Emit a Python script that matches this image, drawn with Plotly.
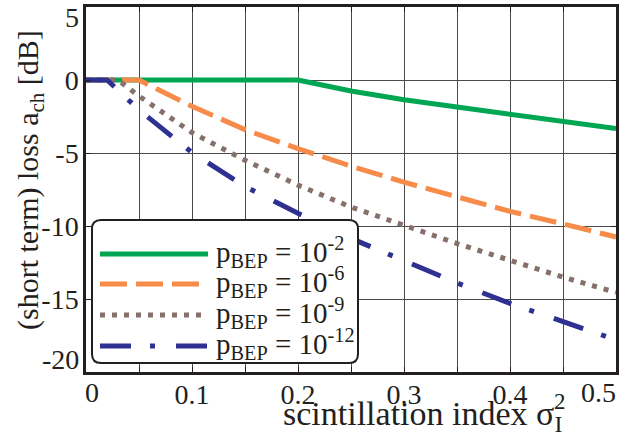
import plotly.graph_objects as go

# ---- data ----
x_green = [0, 0.05, 0.1, 0.15, 0.2, 0.25, 0.3, 0.35, 0.4, 0.45, 0.5]
y_green = [0, 0, 0, 0, 0, -0.75, -1.35, -1.85, -2.35, -2.85, -3.33]

x_orange = [0, 0.05, 0.1, 0.15, 0.2, 0.25, 0.3, 0.35, 0.4, 0.45, 0.5]
y_orange = [0, 0, -1.8, -3.4, -4.7, -5.9, -7.0, -8.0, -9.0, -9.85, -10.75]

x_brown = [0, 0.03, 0.05, 0.1, 0.15, 0.2, 0.25, 0.3, 0.35, 0.4, 0.45, 0.5]
y_brown = [0, 0, -1.1, -3.6, -5.5, -7.2, -8.7, -9.95, -11.2, -12.35, -13.5, -14.55]

x_blue = [0, 0.02, 0.05, 0.1, 0.15, 0.2, 0.25, 0.3, 0.35, 0.4, 0.45, 0.5]
y_blue = [0, 0, -2.05, -4.97, -7.29, -9.13, -10.85, -12.4, -13.9, -15.3, -16.55, -17.8]

series_names = [
    "p<sub>BEP</sub> = 10<sup>-2</sup>",
    "p<sub>BEP</sub> = 10<sup>-6</sup>",
    "p<sub>BEP</sub> = 10<sup>-9</sup>",
    "p<sub>BEP</sub> = 10<sup>-12</sup>",
]

x_tickvals = [0, 0.05, 0.1, 0.15, 0.2, 0.25, 0.3, 0.35, 0.4, 0.45, 0.5]
x_ticktext = ["", "", "0.1", "", "0.2", "", "0.3", "", "0.4", "", ""]
x_first_label, x_last_label = "0", "0.5"
y_tickvals = [5, 0, -5, -10, -15, -20]
y_ticktext = ["", "0", "-5", "-10", "-15", ""]
y_top_label, y_bottom_label = "5", "-20"

x_title = "scintillation index σ<sub>I</sub>"
x_title_sup = "2"
y_title = "(short term) loss a<sub>ch</sub> [dB]"

FONT = "Liberation Serif, Times New Roman, serif"
INK = "#231F20"
colors = ["#00A651", "#F68B4A", "#85706A", "#2E3192"]
dashes = ["solid", "27px,9px", "5px,7px", "31px,19px,5px,21px"]

# figure geometry in pixels
W, H = 624, 439
L, R = 86, 616
T, B = 7, 372


def px(xp):
    return (xp - L) / (R - L)


def py(yp):
    return (B - yp) / (B - T)


fig = go.Figure()
series = [(x_green, y_green), (x_orange, y_orange), (x_brown, y_brown), (x_blue, y_blue)]
for (xs, ys), name, col, dash in zip(series, series_names, colors, dashes):
    fig.add_trace(go.Scatter(x=xs, y=ys, mode="lines", name=name, showlegend=False,
                             line=dict(color=col, width=5, dash=dash)))

# ---- legend (drawn by hand: rounded frame, samples, labels) ----
bx0, bx1, by0, by1 = 92, 358, 220, 363
r = 9
path = (f"M {px(bx0+r)},{py(by0)} L {px(bx1-r)},{py(by0)} Q {px(bx1)},{py(by0)} {px(bx1)},{py(by0+r)} "
        f"L {px(bx1)},{py(by1-r)} Q {px(bx1)},{py(by1)} {px(bx1-r)},{py(by1)} "
        f"L {px(bx0+r)},{py(by1)} Q {px(bx0)},{py(by1)} {px(bx0)},{py(by1-r)} "
        f"L {px(bx0)},{py(by0+r)} Q {px(bx0)},{py(by0)} {px(bx0+r)},{py(by0)} Z")
fig.add_shape(type="path", path=path, xref="paper", yref="paper",
              line=dict(color=INK, width=2), fillcolor="white", layer="above")

row_y = [254, 284, 315, 346]
for ry, name, col, dash in zip(row_y, series_names, colors, dashes):
    fig.add_shape(type="line", xref="paper", yref="paper",
                  x0=px(100), x1=px(208), y0=py(ry), y1=py(ry),
                  line=dict(color=col, width=5, dash=dash), layer="above")
    fig.add_annotation(text=name, xref="paper", yref="paper",
                       x=px(214), y=py(ry - 2), xanchor="left", yanchor="middle",
                       showarrow=False, font=dict(family=FONT, size=29, color=INK))

# edge tick labels (pulled inside the figure, as in the reference)
tick_font = dict(family=FONT, size=28, color=INK)
fig.add_annotation(text=y_top_label, xref="paper", yref="paper",
                   x=px(81), y=py(17), xanchor="right", yanchor="middle",
                   showarrow=False, font=tick_font)
fig.add_annotation(text=y_bottom_label, xref="paper", yref="paper",
                   x=px(81), y=py(359), xanchor="right", yanchor="middle",
                   showarrow=False, font=tick_font)
fig.add_annotation(text=x_first_label, xref="paper", yref="paper",
                   x=px(83), y=py(392), xanchor="left", yanchor="middle",
                   showarrow=False, font=tick_font)
fig.add_annotation(text=x_last_label, xref="paper", yref="paper",
                   x=px(618), y=py(392), xanchor="right", yanchor="middle",
                   showarrow=False, font=tick_font)

# axis titles
fig.add_annotation(text=x_title, xref="paper", yref="paper",
                   x=px(564), y=py(416), xanchor="right", yanchor="middle",
                   showarrow=False, font=dict(family=FONT, size=34, color=INK))
fig.add_annotation(text=x_title_sup, xref="paper", yref="paper",
                   x=px(552), y=py(402), xanchor="left", yanchor="middle",
                   showarrow=False, font=dict(family=FONT, size=23, color=INK))
fig.add_annotation(text=y_title, xref="paper", yref="paper",
                   x=px(30), y=py(180), xanchor="center", yanchor="middle",
                   textangle=-90, showarrow=False,
                   font=dict(family=FONT, size=30, color=INK))

axis_common = dict(
    showgrid=True, gridcolor="#4a4a4a", gridwidth=1,
    showline=True, linecolor=INK, linewidth=2.5, mirror="ticks",
    ticks="inside", ticklen=5, tickcolor=INK, zeroline=False,
    automargin=False, ticklabeloverflow="allow",
    tickfont=tick_font,
)

fig.update_layout(
    width=W, height=H,
    margin=dict(l=L, r=W - R, t=T, b=H - B, autoexpand=False),
    paper_bgcolor="white", plot_bgcolor="white",
    font=dict(family=FONT, size=28, color=INK),
    showlegend=False,
    xaxis=dict(range=[0, 0.5], tickvals=x_tickvals, ticktext=x_ticktext,
               ticklabelstandoff=-4, **axis_common),
    yaxis=dict(range=[-20, 5], tickvals=y_tickvals, ticktext=y_ticktext,
               ticklabelstandoff=-1, **axis_common),
)

fig.write_html("out.html", config={"displayModeBar": False},
               post_script="document.body.style.margin='0px';")
